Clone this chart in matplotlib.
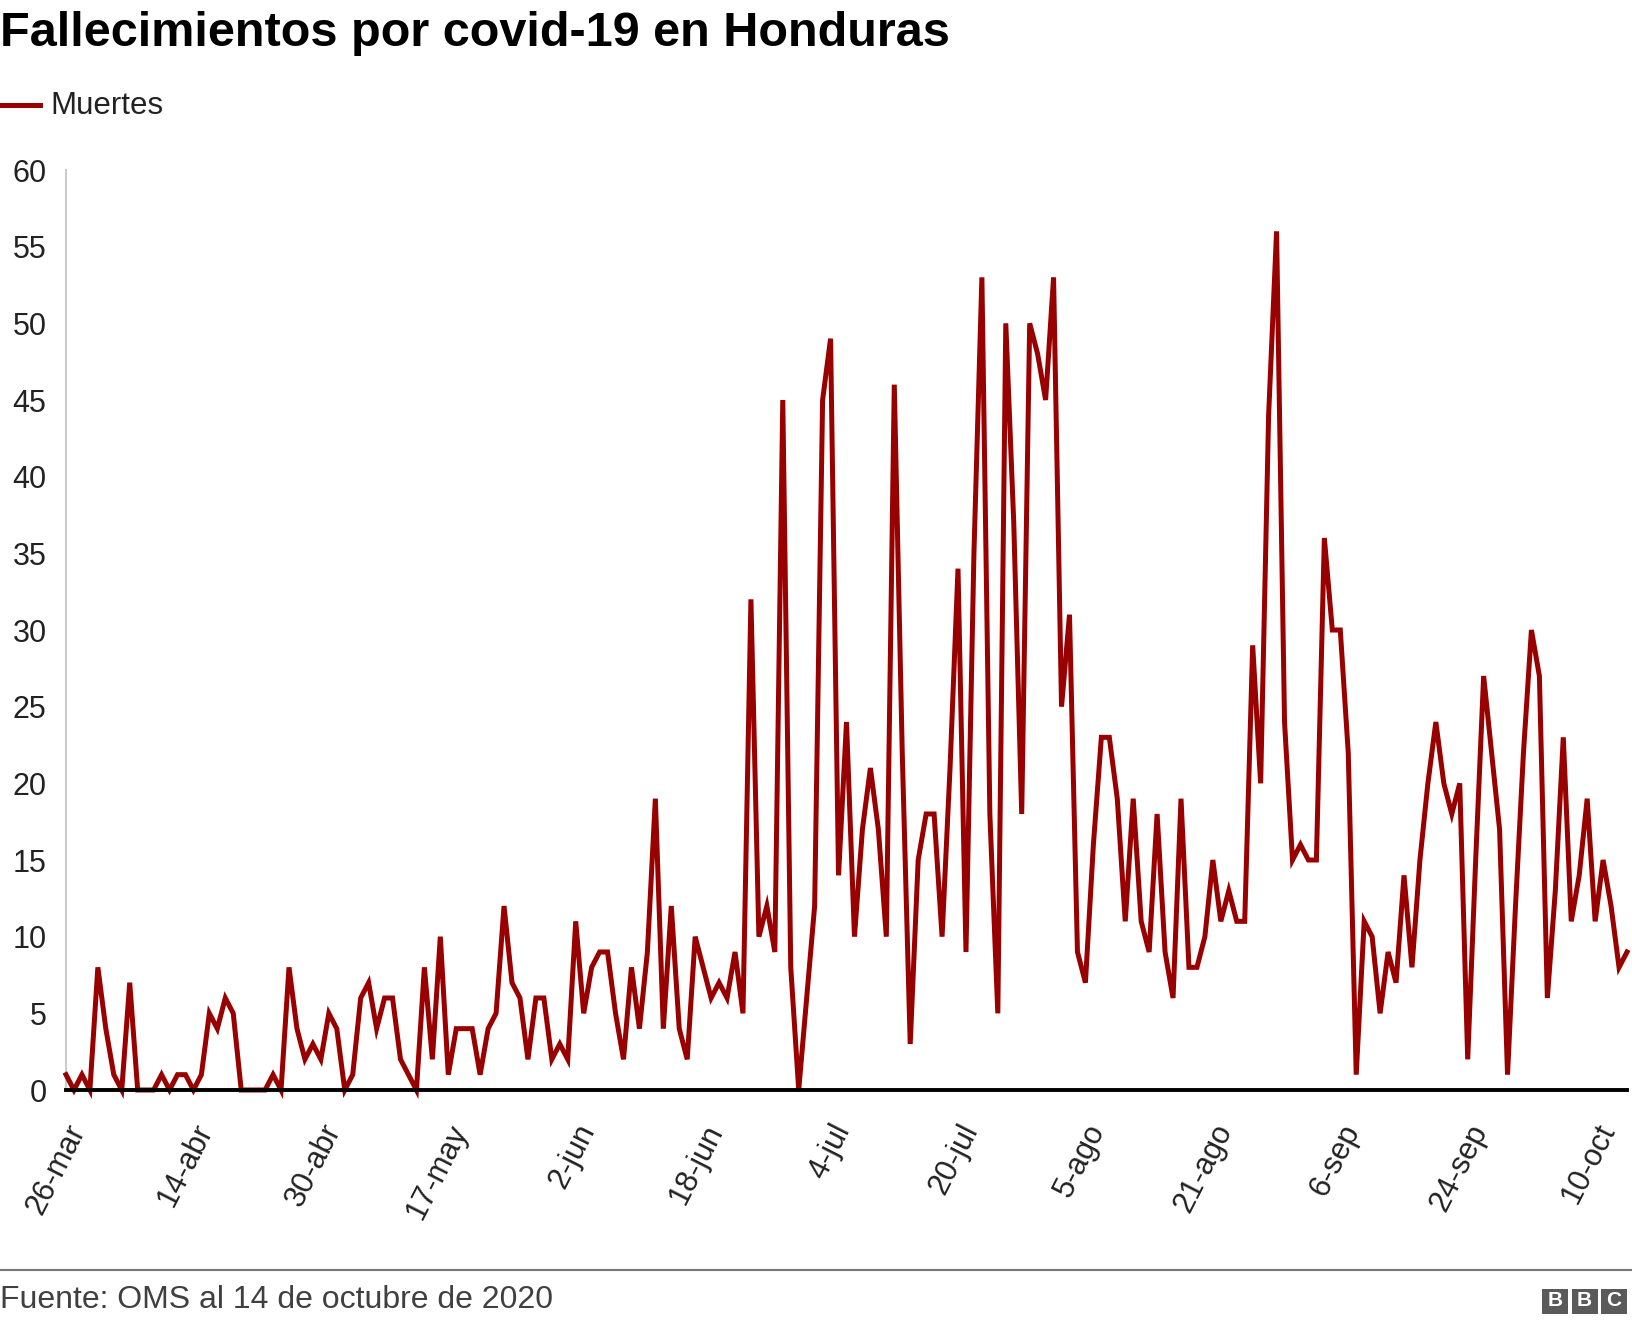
import matplotlib
matplotlib.use('Agg')
import matplotlib.pyplot as plt
import matplotlib.transforms as mtransforms
import numpy as np
from matplotlib.patches import Rectangle
from matplotlib.lines import Line2D

plt.rcParams['font.family'] = ['Liberation Sans', 'DejaVu Sans']

W, H = 1632, 1326
LINE_COLOR = '#990000'

# daily deaths
muertes = [
    1, 0, 1, 0, 8, 4, 1, 0, 7, 0, 0, 0, 1, 0, 1, 1, 0, 1, 5, 4,
    6, 5, 0, 0, 0, 0, 1, 0, 8, 4, 2, 3, 2, 5, 4, 0, 1, 6, 7, 4,
    6, 6, 2, 1, 0, 8, 2, 10, 1, 4, 4, 4, 1, 4, 5, 12, 7, 6, 2, 6,
    6, 2, 3, 2, 11, 5, 8, 9, 9, 5, 2, 8, 4, 9, 19, 4, 12, 4, 2, 10,
    8, 6, 7, 6, 9, 5, 32, 10, 12, 9, 45, 8, 0, 6, 12, 45, 49, 14, 24, 10,
    17, 21, 17, 10, 46, 22, 3, 15, 18, 18, 10, 21, 34, 9, 35, 53, 18, 5, 50, 37,
    18, 50, 48, 45, 53, 25, 31, 9, 7, 16, 23, 23, 19, 11, 19, 11, 9, 18, 9, 6,
    19, 8, 8, 10, 15, 11, 13, 11, 11, 29, 20, 44, 56, 24, 15, 16, 15, 15, 36, 30,
    30, 22, 1, 11, 10, 5, 9, 7, 14, 8, 15, 20, 24, 20, 18, 20, 2, 15, 27, 22,
    17, 1, 12, 22, 30, 27, 6, 13, 23, 11, 14, 19, 11, 15, 12, 8, 9,
]
tick_pos = [2, 18, 34, 50, 66, 82, 98, 114, 130, 146, 162, 178, 194]
tick_labels = ['26-mar', '14-abr', '30-abr', '17-may', '2-jun', '18-jun', '4-jul',
               '20-jul', '5-ago', '21-ago', '6-sep', '24-sep', '10-oct']
y_ticks = [0, 5, 10, 15, 20, 25, 30, 35, 40, 45, 50, 55, 60]


def fx(px):
    return px / W


def fy(py):
    return 1 - py / H


fig = plt.figure(figsize=(W / 100, H / 100), dpi=100)

ax_left, ax_right = 66, 1627
ax_top, ax_bottom = 170, 1090
ax = fig.add_axes([fx(ax_left), fy(ax_bottom), fx(ax_right - ax_left), (ax_bottom - ax_top) / H])

x = np.arange(len(muertes))
ax.plot(x, muertes, color=LINE_COLOR, lw=3.6, solid_joinstyle='miter', clip_on=False, zorder=3)
ax.axhline(0, color='black', lw=2.8, zorder=4, clip_on=False)

ax.set_xlim(0, len(muertes) - 1)
ax.set_ylim(0, 60)
for s in ['top', 'right', 'bottom']:
    ax.spines[s].set_visible(False)
ax.spines['left'].set_color('#cccccc')
ax.spines['left'].set_linewidth(1.5)

ax.set_yticks(y_ticks)
ax.set_yticklabels([str(v) for v in y_ticks], fontsize=22, color='#222222')
ax.tick_params(axis='y', length=0, pad=14)

ax.set_xticks(tick_pos)
ax.set_xticklabels(tick_labels, rotation=63, ha='right', fontsize=22, color='#222222')
ax.tick_params(axis='x', length=0, pad=21)
shift = mtransforms.ScaledTranslation(10 / 100, 0, fig.dpi_scale_trans)
for lab in ax.get_xticklabels():
    lab.set_transform(lab.get_transform() + shift)

# title + legend
fig.text(fx(0), fy(33), 'Fallecimientos por covid-19 en Honduras', fontsize=35,
         fontweight='bold', ha='left', va='center', color='#000000')
fig.add_artist(Line2D([fx(0), fx(40)], [fy(105), fy(105)], color=LINE_COLOR, lw=3.6))
fig.text(fx(50), fy(106), 'Muertes', fontsize=22.5, ha='left', va='center', color='#222222')

# footer
fig.add_artist(Line2D([0, 1], [fy(1270), fy(1270)], color='#777777', lw=1.5))
fig.text(fx(0), fy(1300), 'Fuente: OMS al 14 de octubre de 2020', fontsize=23,
         ha='left', va='center', color='#404040')
for i, letter in enumerate('BBC'):
    x0 = 1542 + i * 29.5
    fig.add_artist(Rectangle((fx(x0), fy(1314)), fx(26), 25 / H, color='#5a5a5a', lw=0))
    fig.text(fx(x0 + 13), fy(1301), letter, fontsize=15, fontweight='bold',
             color='white', ha='center', va='center')

fig.savefig('out.png', dpi=100)
